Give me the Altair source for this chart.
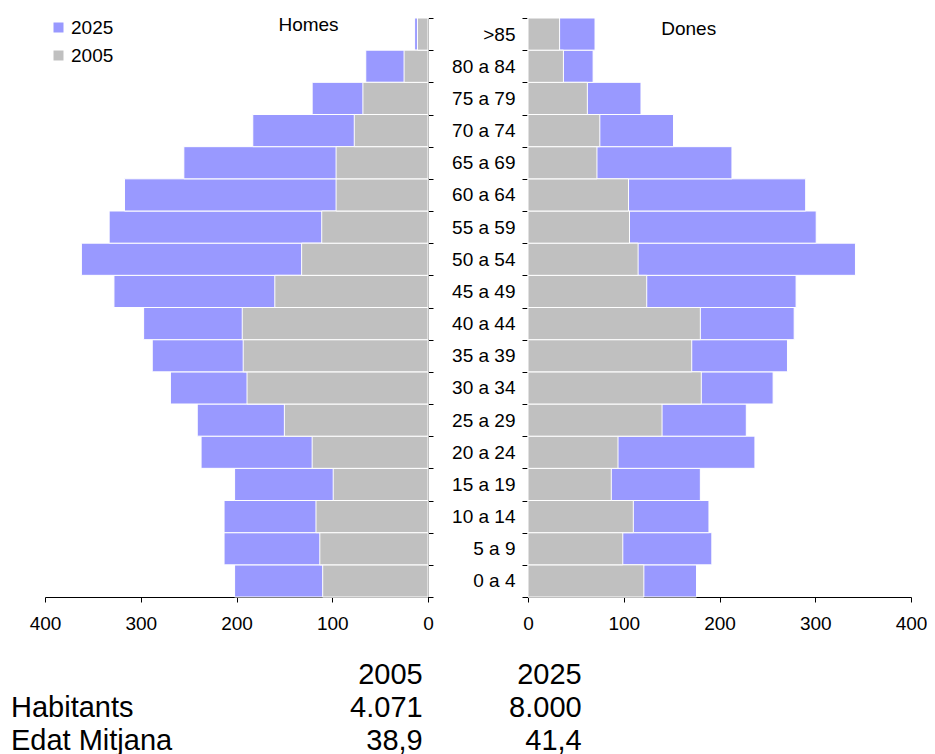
import altair as alt
import pandas as pd

# ---------------- data ----------------
ages = ["0 a 4", "5 a 9", "10 a 14", "15 a 19", "20 a 24", "25 a 29", "30 a 34",
        "35 a 39", "40 a 44", "45 a 49", "50 a 54", "55 a 59", "60 a 64",
        "65 a 69", "70 a 74", "75 a 79", "80 a 84", ">85"]

homes_2005 = [110, 113, 117, 99, 121, 150, 189, 193, 194, 160, 132, 111, 96, 96, 77, 68, 25, 11]
homes_2025 = [202, 213, 213, 202, 237, 241, 269, 288, 297, 328, 362, 333, 317, 255, 183, 121, 65, 14]
dones_2005 = [121, 99, 110, 87, 94, 140, 181, 171, 180, 124, 115, 106, 105, 72, 75, 62, 37, 33]
dones_2025 = [176, 192, 189, 180, 237, 228, 256, 271, 278, 280, 342, 301, 290, 213, 152, 118, 68, 70]

years = ["2025", "2005"]
colors = ["#9999FF", "#C0C0C0"]

table_rows = ["header", "Habitants", "Edat Mitjana"]
table_labels = ["", "Habitants", "Edat Mitjana"]
table_2005 = ["2005", "4.071", "38,9"]
table_2025 = ["2025", "8.000", "41,4"]

# ---------------- build tables ----------------
def long_df(v2025, v2005):
    rows = []
    for a, v in zip(ages, v2025):
        rows.append({"age": a, "year": "2025", "value": v})
    for a, v in zip(ages, v2005):
        rows.append({"age": a, "year": "2005", "value": v})
    return pd.DataFrame(rows)

homes_df = long_df(homes_2025, homes_2005)
dones_df = long_df(dones_2025, dones_2005)
table_df = pd.DataFrame({"row": table_rows, "label": table_labels,
                         "v2005": table_2005, "v2025": table_2025})

age_order = list(reversed(ages))
FONT = "Liberation Sans"
W, H = 383, 579
GAP = 100

color_scale = alt.Scale(domain=years, range=colors)
y_scale = alt.Scale(domain=age_order, paddingInner=0, paddingOuter=0)
ticks = [0, 100, 200, 300, 400]

# ---------------- left panel (Homes) ----------------
left_bars = alt.Chart(homes_df).mark_bar(stroke="white", strokeWidth=1).encode(
    x=alt.X("value:Q", stack=None,
            scale=alt.Scale(domain=[0, 400], reverse=True, nice=False),
            axis=alt.Axis(values=ticks, title=None, grid=False, tickSize=5,
                          labelPadding=12, labelFontSize=19, labelFlush=False)),
    y=alt.Y("age:N", sort=age_order, scale=y_scale,
            axis=alt.Axis(orient="right", labels=False, title=None, tickBand="extent",
                          tickSize=5, grid=False)),
    color=alt.Color("year:N", scale=color_scale,
                    legend=alt.Legend(orient="none", legendX=4, legendY=0, title=None,
                                      symbolType="square", symbolSize=100,
                                      symbolStrokeWidth=0, labelFontSize=19,
                                      labelOffset=3, rowPadding=8, padding=0)),
)
left_title = alt.Chart(pd.DataFrame({"t": ["Homes"]})).mark_text(
    fontSize=19, align="center", baseline="alphabetic", color="black"
).encode(text="t:N", x=alt.value(263.5), y=alt.value(13.4))

left = alt.layer(left_bars, left_title).properties(width=W, height=H)

# ---------------- right panel (Dones) ----------------
right_bars = alt.Chart(dones_df).mark_bar(stroke="white", strokeWidth=1).encode(
    x=alt.X("value:Q", stack=None,
            scale=alt.Scale(domain=[0, 400], nice=False),
            axis=alt.Axis(values=ticks, title=None, grid=False, tickSize=5,
                          labelPadding=12, labelFontSize=19, labelFlush=False)),
    y=alt.Y("age:N", sort=age_order, scale=y_scale,
            axis=alt.Axis(orient="left", title=None, tickBand="extent", tickSize=6,
                          labelPadding=7, labelFontSize=19, grid=False)),
    color=alt.Color("year:N", scale=color_scale, legend=None),
)
right_title = alt.Chart(pd.DataFrame({"t": ["Dones"]})).mark_text(
    fontSize=19, align="center", baseline="alphabetic", color="black"
).encode(text="t:N", x=alt.value(160.7), y=alt.value(16.5))

right = alt.layer(right_bars, right_title).properties(width=W, height=H)

top_row = alt.hconcat(left, right, spacing=GAP, bounds="flush").resolve_scale(
    color="independent", y="independent")

# ---------------- summary table ----------------
ty = alt.Y("row:N", sort=table_rows,
           scale=alt.Scale(type="point", domain=table_rows, range=[50.7, 117.2], padding=0),
           axis=None)
base = alt.Chart(table_df)
t_labels = base.mark_text(fontSize=29, align="left", baseline="alphabetic", color="black").encode(
    text="label:N", x=alt.value(-34), y=ty)
t_2005 = base.mark_text(fontSize=29, align="right", baseline="alphabetic", color="black").encode(
    text="v2005:N", x=alt.value(377.7), y=ty)
t_2025 = base.mark_text(fontSize=29, align="right", baseline="alphabetic", color="black").encode(
    text="v2025:N", x=alt.value(536.7), y=ty)
table = alt.layer(t_labels, t_2005, t_2025).properties(width=W * 2 + GAP, height=110)

chart = alt.vconcat(top_row, table, spacing=0).properties(
    padding={"left": 3, "top": 1, "right": 0, "bottom": 0}
).configure(font=FONT).configure_view(stroke=None).configure_axis(
    domainColor="black", tickColor="black", labelColor="black", labelFont=FONT,
    domainWidth=1, tickWidth=1
).configure_legend(labelFont=FONT, labelColor="black")

chart.save("out.html", embed_options={"renderer": "svg", "actions": False})
